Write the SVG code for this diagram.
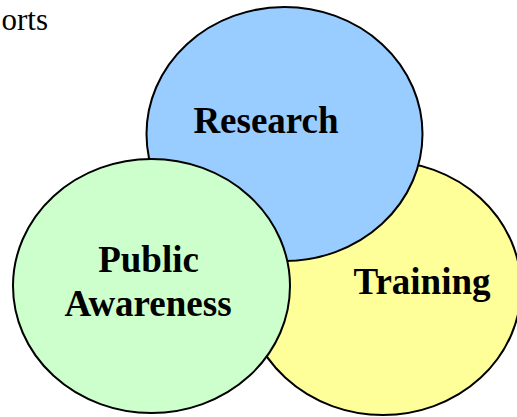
<svg xmlns="http://www.w3.org/2000/svg" width="517" height="417" viewBox="0 0 517 417">
<style>
.c{stroke:#000;stroke-width:2}
.lbl{font-family:"Liberation Serif","Times New Roman",serif;font-weight:bold;font-size:37px;text-anchor:middle;fill:#000}
.bg{font-family:"Liberation Serif","Times New Roman",serif;font-size:31px;fill:#000}
</style>
<rect width="517" height="417" fill="#fff"/>
<text class="bg" x="122" y="-8">g</text>
<text class="bg" x="48" y="30" text-anchor="end">orts</text>
<g id="training">
<ellipse class="c" cx="383" cy="288" rx="138" ry="127" fill="#ffff99"/>
<text class="lbl" x="422" y="294">Training</text>
</g>
<g id="research">
<ellipse class="c" cx="284.5" cy="134" rx="138" ry="127" fill="#99ccff"/>
<text class="lbl" x="266" y="133">Research</text>
</g>
<g id="public-awareness">
<ellipse class="c" cx="151.5" cy="286" rx="138.5" ry="127" fill="#ccffcc"/>
<text class="lbl" x="148.5" y="272">Public</text>
<text class="lbl" x="148" y="316">Awareness</text>
</g>
<g id="connectors"/>
</svg>
